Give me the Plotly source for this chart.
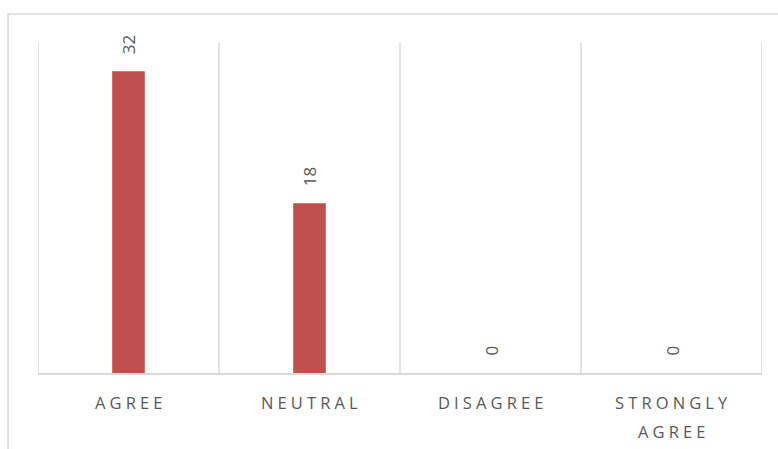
import plotly.graph_objects as go

categories = ["AGREE", "NEUTRAL", "DISAGREE", "STRONGLY AGREE"]
values = [32, 18, 0, 0]

BAR_COLOR = "#C0504D"
GRID = "#D9D9D9"
TEXT = "#595959"
SPACER = "\u2005"
Y_MAX = 35


def spaced(word):
    # widen the letter spacing of a category word
    return SPACER.join(list(word))


fig = go.Figure(
    go.Bar(
        x=list(range(len(categories))),
        y=values,
        marker=dict(color=BAR_COLOR, line=dict(width=0)),
        width=0.18,
    )
)

# value labels, rotated, above each bar
for i, v in enumerate(values):
    fig.add_annotation(
        x=i, y=v, text=str(v), textangle=-90, showarrow=False,
        yanchor="bottom", yshift=15,
        font=dict(family="Open Sans", size=17, color=TEXT),
    )

# category labels below the axis, one annotation per line
for i, c in enumerate(categories):
    for j, word in enumerate(c.split(" ")):
        fig.add_annotation(
            x=i, y=0, text=spaced(word), showarrow=False,
            yanchor="middle", yshift=-29 - 29 * j,
            font=dict(family="Open Sans", size=16.5, color=TEXT),
        )

# vertical separators at category boundaries
for k in range(len(categories) + 1):
    fig.add_shape(
        type="line", xref="x", yref="y",
        x0=k - 0.5, x1=k - 0.5, y0=0, y1=Y_MAX,
        line=dict(color=GRID, width=1.5), layer="below",
    )

# outer chart frame
fig.add_shape(
    type="rect", xref="paper", yref="paper",
    x0=-0.0414, x1=1.03, y0=-0.3, y1=1.0879,
    line=dict(color=GRID, width=1.5), fillcolor="rgba(0,0,0,0)", layer="below",
)

fig.update_layout(
    width=778, height=449,
    margin=dict(l=38, r=16, t=43, b=76),
    paper_bgcolor="white", plot_bgcolor="white",
    showlegend=False,
    xaxis=dict(
        range=[-0.5, len(categories) - 0.5],
        showticklabels=False, ticks="", showgrid=False, zeroline=False,
        showline=True, linecolor=GRID, linewidth=1.5,
    ),
    yaxis=dict(
        range=[0, Y_MAX], showgrid=False, showticklabels=False,
        zeroline=False, showline=False, ticks="",
    ),
)

fig.write_html("out.html")
